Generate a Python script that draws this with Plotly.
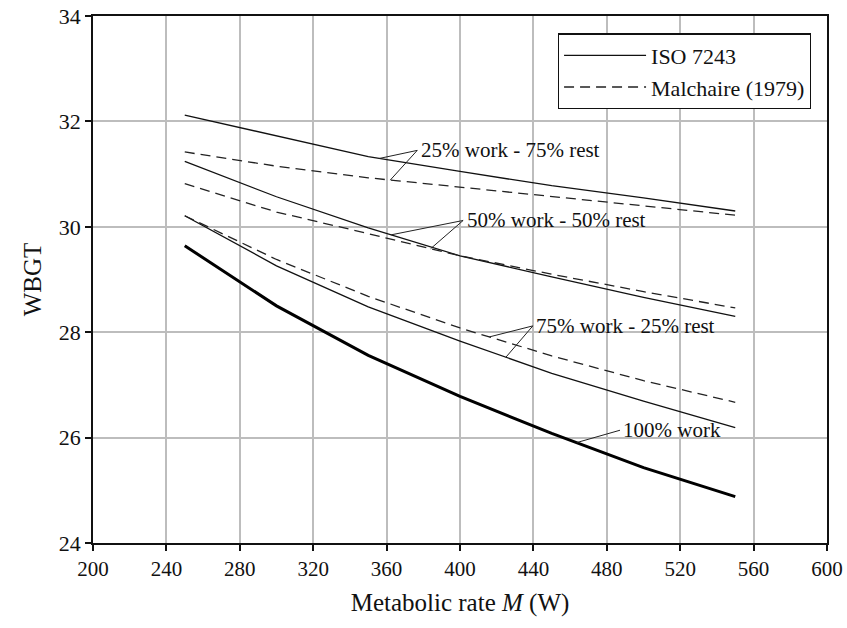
import numpy as np
import plotly.graph_objects as go

# Metabolic rate (W)
M = [250, 300, 350, 400, 450, 500, 550]

# WBGT values
iso_25 = [32.12, 31.72, 31.33, 31.05, 30.78, 30.55, 30.30]
mal_25 = [31.42, 31.15, 30.93, 30.75, 30.57, 30.40, 30.22]
iso_50 = [31.24, 30.57, 29.98, 29.45, 29.05, 28.66, 28.30]
mal_50 = [30.82, 30.28, 29.87, 29.45, 29.10, 28.77, 28.46]
iso_75 = [30.21, 29.26, 28.48, 27.83, 27.22, 26.69, 26.19]
mal_75 = [30.21, 29.38, 28.68, 28.08, 27.55, 27.08, 26.67]
work_100 = [29.64, 28.50, 27.56, 26.78, 26.08, 25.43, 24.88]

x_ticks = [200, 240, 280, 320, 360, 400, 440, 480, 520, 560, 600]
y_ticks = [24, 26, 28, 30, 32, 34]

# Label texts, anchor points (M, WBGT) and leader targets (M on each curve)
labels = ["25% work - 75% rest", "50% work - 50% rest", "75% work - 25% rest", "100% work"]
label_x = [377.5, 402.5, 440.5, 488.0]
label_y = [31.45, 30.12, 28.12, 26.14]
leader_targets = [
    [(iso_25, 356.0), (mal_25, 362.0)],
    [(iso_50, 362.5), (mal_50, 384.0)],
    [(mal_75, 416.0), (iso_75, 425.0)],
    [(work_100, 463.5)],
]

FONT = "Liberation Serif, Times New Roman, serif"
solid = dict(color="#111111", width=1.3)
dashed = dict(color="#222222", width=1.3, dash="10px,6px")

fig = go.Figure()
fig.add_trace(go.Scatter(x=M, y=iso_25, mode="lines", line=solid, name="ISO 7243", showlegend=True))
fig.add_trace(go.Scatter(x=M, y=mal_25, mode="lines", line=dashed, name="Malchaire (1979)", showlegend=True))
fig.add_trace(go.Scatter(x=M, y=iso_50, mode="lines", line=solid, showlegend=False))
fig.add_trace(go.Scatter(x=M, y=mal_50, mode="lines", line=dashed, showlegend=False))
fig.add_trace(go.Scatter(x=M, y=iso_75, mode="lines", line=solid, showlegend=False))
fig.add_trace(go.Scatter(x=M, y=mal_75, mode="lines", line=dashed, showlegend=False))
fig.add_trace(go.Scatter(x=M, y=work_100, mode="lines", line=dict(color="#000000", width=3), showlegend=False))

for txt, lx, ly, targets in zip(labels, label_x, label_y, leader_targets):
    fig.add_annotation(x=lx, y=ly, text=txt, showarrow=False, xanchor="left", yanchor="middle",
                       font=dict(family=FONT, size=21, color="#111111"))
    for series, tm in targets:
        ty = float(np.interp(tm, M, series))
        fig.add_shape(type="line", xref="x", yref="y", x0=lx - 0.8, y0=ly, x1=tm, y1=ty,
                      line=dict(color="#222222", width=1))

fig.update_layout(
    width=847, height=628,
    margin=dict(l=93, r=20, t=16, b=85, autoexpand=False),
    paper_bgcolor="white", plot_bgcolor="white",
    font=dict(family=FONT, color="#111111"),
    legend=dict(x=0.978, y=0.967, xanchor="right", yanchor="top",
                bgcolor="white", bordercolor="#111111", borderwidth=1.2,
                font=dict(family=FONT, size=22, color="#111111"),
                itemwidth=82, tracegroupgap=0),
)
axis_common = dict(
    automargin=False, ticklabeloverflow="allow",
    showgrid=True, gridcolor="#bdbdbd", gridwidth=1.5,
    showline=True, linecolor="#111111", linewidth=1.5, mirror=True,
    ticks="outside", ticklen=6, tickcolor="#111111", tickwidth=1.5,
    zeroline=False,
)
fig.update_xaxes(range=[200, 600], tickvals=x_ticks, ticktext=[str(v) for v in x_ticks],
                 tickfont=dict(family=FONT, size=21, color="#111111"),
                 title=dict(text="Metabolic rate <i>M</i> (W)", standoff=14,
                            font=dict(family=FONT, size=25, color="#111111")),
                 **axis_common)
fig.update_yaxes(range=[24, 34], tickvals=y_ticks, ticktext=[str(v) for v in y_ticks],
                 tickfont=dict(family=FONT, size=22, color="#111111"),
                 title=dict(text="WBGT", standoff=10,
                            font=dict(family=FONT, size=25, color="#111111")),
                 **axis_common)

# remove the default 8px page margin so the figure fills the window exactly
fig.write_html("out.html", config={"displayModeBar": False},
               post_script="document.body.style.margin='0';")
